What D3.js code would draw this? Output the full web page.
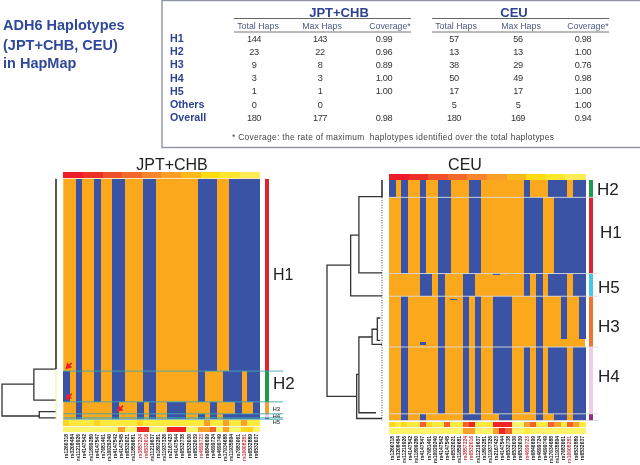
<!DOCTYPE html>
<html>
  <head>
    <meta charset="utf-8">
    <style>
      html, body { margin: 0; padding: 0; background: #fff; }
      svg { display: block; font-family: "Liberation Sans", Arial, sans-serif; filter: blur(0.35px); }
      .tree path { fill: none; stroke: #333; stroke-width: 1.3px; }
      .cell, .ldcell, .strip, .side { shape-rendering: crispEdges; }
    </style>
    <script src="https://cdn.jsdelivr.net/npm/d3@7/dist/d3.min.js"></script>
  </head>
  <body>
    <script>
      // table
      var tableRows = ["H1", "H2", "H3", "H4", "H5", "Others", "Overall"];
      var tableHead = ["Total Haps", "Max Haps", "Coverage*"];
      var jptTotal = ["144", "23", "9", "3", "1", "0", "180"];
      var jptMax = ["143", "22", "8", "3", "1", "0", "177"];
      var jptCover = ["0.99", "0.96", "0.89", "1.00", "1.00", "", "0.98"];
      var ceuTotal = ["57", "13", "38", "50", "17", "5", "180"];
      var ceuMax = ["56", "13", "29", "49", "17", "5", "169"];
      var ceuCover = ["0.98", "1.00", "0.76", "0.98", "1.00", "1.00", "0.94"];

      // snp columns (ids are blurred in the picture, best reading)
      var snps = ["rs1260318", "rs3208484", "rs11219926", "rs4147542", "rs11899280", "rs4147547", "rs7681461",
        "rs10029240", "rs4147542", "rs4147545", "rs6532021", "rs11859681", "rs3857224", "rs6532016", "rs11219637",
        "rs1893281", "rs11937326", "rs2167423", "rs4147544", "rs6532738", "rs6532030", "rs6532039", "rs4699723",
        "rs6846699", "rs4699724", "rs4699749", "rs17034688", "rs11935894", "rs7683061", "rs10008281", "rs6532889", "rs6532037"];
      var redSnps = [12, 13, 22, 29];

      // blue columns of each haplotype block
      var blueH1 = [2, 5, 8, 9, 13, 14, 22, 23, 24, 27, 28, 29, 30, 31];
      var blueH2 = [0, 2, 5, 8, 9, 13, 14, 22, 26, 27, 28, 30, 31];
      var blueH3 = [2, 8, 12, 14, 17, 18, 19, 24, 28, 31];
      var blueH3b = [2, 8, 12, 14, 17, 18, 19, 24];
      var blueH4Jpt = [2, 8, 12, 14, 17, 18, 19, 22, 24, 26, 27, 28, 29, 30, 31];
      var blueH4Ceu = [2, 8, 12, 14, 17, 18, 19, 22, 24, 26, 27, 28, 30, 31];
      var blueH4End = [2, 8, 12, 14, 17, 18, 19, 24, 26, 27, 28, 30, 31];
      var blueH5Ceu = [5, 6, 8, 12, 13, 22, 24, 26, 27, 28, 30, 31];
      var blueOther = [2, 5, 12, 13, 14, 18, 19, 24, 27, 28, 30, 31];

      // [block, number of haplotypes]
      var jptBlocks = [[blueH1, 144], [blueH2, 23], [blueH3, 9], [blueH4Jpt, 3], [blueH4Jpt, 1]];
      var ceuBlocks = [[blueH2, 13], [blueH1, 57], [blueH5Ceu, 17], [blueH3, 32], [blueH3b, 6],
        [blueH4Ceu, 49], [blueH4End, 1], [blueOther, 5]];
      // stray cells [column, first haplotype, last haplotype]
      var ceuSpecks = [[17, 69.5, 71], [10, 88.8, 90], [5, 121.3, 123.7]];

      // group side bars [name, haplotypes, colour]
      var jptGroups = [["H1", 144, "#e0242f"], ["H2", 23, "#1f9a4a"], ["H3", 9, "#f3a02c"], ["H4", 3, "#eecbe6"], ["H5", 1, "#8e2f86"]];
      var ceuGroups = [["H2", 13, "#1f9a4a"], ["H1", 57, "#e0242f"], ["H5", 17, "#45c6e6"], ["H3", 38, "#ee7430"], ["H4", 50, "#eecbe6"], ["", 5, "#8e2f86"]];

      // bottom rows, heat level per column
      var jptLd1 = [2,1,1,1,1,2,1,1,1,1,1,1,2,1,1,1,1,1,1,1,1,1,1,3,1,1,3,1,1,3,1,1];
      var jptLd2 = [0,0,0,0,0,0,0,0,0,3,0,0,5,5,0,0,0,5,5,5,0,0,3,3,4,0,3,0,0,2,2,0];
      var ceuLd1 = [2,1,2,1,1,4,2,1,1,4,1,1,4,5,1,1,1,5,5,5,0,0,3,4,1,1,4,3,1,4,3,1];
      var ceuLd2 = [0,0,0,0,0,0,0,0,0,0,0,0,3,3,0,0,0,3,5,4,0,0,1,0,0,0,0,0,0,0,0,0];
      var ldColors = ["#fff36a", "#ffe93a", "#ffd51e", "#f9a02b", "#f2622a", "#ee2426"];

      // colour strip above each heat map
      var stripColors = ["#ee1c28", "#ee2f28", "#f1512a", "#f3692c", "#f6852b", "#fa9f26", "#fdb81c", "#ffdc10", "#ffe82c", "#fdeb55"];

      // dendrograms: d = distance, pos = haplotype position
      var jptTree = { d: 1, pos: 165, children: [
        { d: 0.41, pos: 153.7, children: [
          { d: 0.05, pos: 142.5, children: [{ d: 0, pos: 142.5 }] },
          { d: 0.05, pos: 165.7, children: [{ d: 0, pos: 165.7 }] }] },
        { d: 0.31, pos: 177.6, children: [{ d: 0, pos: 174.4 }, { d: 0, pos: 179 }] }] };
      var ceuTree = { d: 1, pos: 110, children: [
        { d: 0.57, pos: 63.7, children: [
          { d: 0.42, pos: 41.2, children: [{ d: 0, pos: 12.5 }, { d: 0, pos: 69.5 }] },
          { d: 0, pos: 86.8 }] },
        { d: 0.46, pos: 162, children: [
          { d: 0.42, pos: 145.5, children: [
            { d: 0.18, pos: 117.5, children: [
              { d: 0.085, pos: 111.7, children: [{ d: 0.03, pos: 103.3 }, { d: 0.03, pos: 120 }] },
              { d: 0, pos: 123 }] },
            { d: 0.11, pos: 174.2 }] },
          { d: 0, pos: 178.5 }] }] };

      // red arrows [column, haplotype]
      var jptArrows = [[0.8, 140.5], [0.8, 163.5], [9.2, 172.5]];

      var svg = d3.select("body").append("svg").attr("width", 640).attr("height", 465);

      // ---- title
      var titleLines = ["ADH6 Haplotypes", "(JPT+CHB, CEU)", "in HapMap"];
      svg.selectAll("text.title").data(titleLines).enter().append("text")
        .attr("class", "title")
        .attr("x", 3).attr("y", function(d, i) { return [30, 50, 68][i]; })
        .attr("font-size", 14.5).attr("font-weight", "bold").attr("fill", "#30499b")
        .text(function(d) { return d; });

      // ---- table
      var rowY = d3.scalePoint().domain(tableRows).range([38.3, 117.3]);
      svg.append("rect").attr("x", 162).attr("y", 0.5).attr("width", 490).attr("height", 147)
        .attr("fill", "#fff").attr("stroke", "#8f93a6").attr("stroke-width", 1.4);
      svg.selectAll("text.rowname").data(tableRows).enter().append("text")
        .attr("class", "rowname").attr("x", 170).attr("y", function(d) { return rowY(d) + 3.8; })
        .attr("font-size", 10.7).attr("font-weight", "bold").attr("fill", "#2e4294")
        .text(function(d) { return d; });

      function tableBlock(name, cx, x0, x1, headX, valX, cols) {
        svg.append("text").attr("x", cx).attr("y", 17).attr("text-anchor", "middle")
          .attr("font-size", 13).attr("font-weight", "bold").attr("fill", "#2e4294").text(name);
        svg.append("line").attr("x1", x0).attr("x2", x1).attr("y1", 18.5).attr("y2", 18.5).attr("stroke", "#666");
        svg.append("line").attr("x1", x0).attr("x2", x1).attr("y1", 32).attr("y2", 32).attr("stroke", "#777");
        tableHead.forEach(function(h, i) {
          svg.append("text").attr("x", headX[i]).attr("y", 29.3).attr("text-anchor", "middle")
            .attr("font-size", 8.8).attr("fill", "#4c5a86").text(h);
        });
        cols.forEach(function(col, i) {
          svg.selectAll(null).data(col).enter().append("text")
            .attr("x", valX[i]).attr("y", function(d, j) { return rowY(tableRows[j]) + 3.4; })
            .attr("text-anchor", "middle").attr("font-size", 9.2).attr("letter-spacing", -0.4).attr("fill", "#333")
            .text(function(d) { return d; });
        });
      }
      tableBlock("JPT+CHB", 339, 234, 411, [258, 322, 390], [254, 320, 384], [jptTotal, jptMax, jptCover]);
      tableBlock("CEU", 514, 432, 609, [456, 521, 588], [454, 518, 583], [ceuTotal, ceuMax, ceuCover]);

      svg.append("text").attr("x", 232).attr("y", 140).attr("font-size", 8.4).attr("fill", "#444")
        .attr("textLength", 322).attr("lengthAdjust", "spacing").style("white-space", "pre")
        .text("* Coverage: the rate of maximum  haplotypes identified over the total haplotypes");

      // ---- one heat map panel
      function panel(o) {
        var g = svg.append("g");
        var x = d3.scaleBand().domain(d3.range(snps.length)).range([o.left, o.left + 196]);
        var xc = d3.scaleLinear().domain([0, snps.length]).range([o.left, o.left + 196]);
        var y = d3.scaleLinear().domain([0, 180]).range([o.top, o.top + 240.5]);

        g.append("text").attr("x", o.titleX).attr("y", 170).attr("text-anchor", "middle")
          .attr("font-size", 16).attr("fill", "#222").text(o.title);

        // colour strip
        var sx = d3.scaleBand().domain(d3.range(stripColors.length)).range([o.left, o.left + 196]);
        g.selectAll("rect.strip").data(stripColors).enter().append("rect").attr("class", "strip")
          .attr("x", function(d, i) { return sx(i); }).attr("y", o.top - 6.5)
          .attr("width", sx.bandwidth() + 0.5).attr("height", 6).attr("fill", function(d) { return d; });

        // orange ground, then blue runs
        g.append("rect").attr("x", o.left).attr("y", y(0)).attr("width", 196).attr("height", y(180) - y(0)).attr("fill", "#fba81d");
        var start = 0, cells = [];
        o.blocks.forEach(function(b) {
          b[0].forEach(function(c) { cells.push({ c: c, a: start, b: start + b[1] }); });
          start += b[1];
        });
        (o.specks || []).forEach(function(s) { cells.push({ c: s[0], a: s[1], b: s[2] }); });
        g.selectAll("rect.cell").data(cells).enter().append("rect").attr("class", "cell")
          .attr("x", function(d) { return x(d.c); }).attr("y", function(d) { return y(d.a); })
          .attr("width", x.bandwidth() + 0.6).attr("height", function(d) { return y(d.b) - y(d.a); })
          .attr("fill", "#3a53a5");

        // bottom rows
        var ld = d3.scaleOrdinal().domain(d3.range(ldColors.length)).range(ldColors);
        [o.ld1, o.ld2].forEach(function(row, r) {
          g.selectAll(null).data(row).enter().append("rect").attr("class", "ldcell")
            .attr("x", function(d, i) { return x(i); }).attr("y", y(180) + 1 + r * 6.4)
            .attr("width", x.bandwidth() + 0.6).attr("height", 5.8)
            .attr("fill", function(d) { return ld(d); });
        });

        // snp names
        g.selectAll("text.snp").data(snps).enter().append("text").attr("class", "snp")
          .attr("transform", function(d, i) { return "translate(" + (x(i) + x.bandwidth() / 2 + 1.7) + "," + o.labelY + ") rotate(-90)"; })
          .attr("text-anchor", "end").attr("font-size", 5).attr("font-weight", "bold")
          .attr("fill", function(d, i) { return redSnps.indexOf(i) >= 0 ? "#c8323c" : "#111"; })
          .text(function(d) { return d; });

        // side bars, boundary lines, names
        var at = 0, sizes = [];
        o.groups.forEach(function(gr) { sizes.push({ name: gr[0], a: at, b: at + gr[1], color: gr[2] }); at += gr[1]; });
        g.selectAll("rect.side").data(sizes).enter().append("rect").attr("class", "side")
          .attr("x", o.barX).attr("width", 4).attr("y", function(d) { return y(d.a); })
          .attr("height", function(d) { return y(d.b) - y(d.a); }).attr("fill", function(d) { return d.color; });
        g.selectAll("line.edge").data(sizes).enter().append("line").attr("class", "edge")
          .attr("x1", o.left).attr("x2", o.lineEnd)
          .attr("y1", function(d) { return y(d.b); }).attr("y2", function(d) { return y(d.b); })
          .attr("stroke", o.lineColor).attr("stroke-width", 0.9);
        g.selectAll("text.group").data(sizes.filter(function(d) { return d.name; })).enter().append("text").attr("class", "group")
          .attr("x", function(d) { return o.nameX[d.name]; })
          .attr("y", function(d) { return o.nameY[d.name]; })
          .attr("font-size", function(d) { return o.nameSize[d.name] || 17; }).attr("fill", "#222")
          .text(function(d) { return d.name; });

        // dendrogram, links as elbows
        var tx = d3.scaleLinear().domain([0, 1]).range([o.treeX0, o.treeX1]);
        var root = d3.hierarchy(o.tree);
        g.append("g").attr("class", "tree").selectAll("path").data(root.links()).enter().append("path")
          .attr("d", function(l) {
            var p = d3.path();
            p.moveTo(tx(l.source.data.d), y(l.source.data.pos));
            p.lineTo(tx(l.source.data.d), y(l.target.data.pos));
            p.lineTo(tx(l.target.data.d), y(l.target.data.pos));
            return p.toString();
          });
        g.append("line").attr("x1", o.treeX0).attr("x2", o.treeX0).attr("y1", y(o.comb[0])).attr("y2", y(o.comb[1]))
          .attr("stroke", "#222").attr("stroke-width", 1.5);
        g.append("line").attr("x1", o.treeX0).attr("x2", o.treeX0).attr("y1", y(o.comb[1])).attr("y2", y(180))
          .attr("stroke", o.railColor).attr("stroke-width", 1).attr("stroke-dasharray", o.railDash);

        // red arrows
        g.selectAll("path.arrow").data(o.arrows || []).enter().append("path").attr("class", "arrow")
          .attr("transform", function(d) { return "translate(" + xc(d[0]) + "," + y(d[1]) + ") rotate(-135)"; })
          .attr("d", d3.symbol().type(d3.symbolTriangle).size(22)).attr("fill", "#e5232e");
        g.selectAll("line.arrow").data(o.arrows || []).enter().append("line").attr("class", "arrow")
          .attr("x1", function(d) { return xc(d[0]); }).attr("y1", function(d) { return y(d[1]); })
          .attr("x2", function(d) { return xc(d[0]) + 3.5; }).attr("y2", function(d) { return y(d[1]) - 3.5; })
          .attr("stroke", "#e5232e").attr("stroke-width", 1.6);
      }

      panel({
        title: "JPT+CHB", titleX: 172, left: 63.3, top: 178.7, labelY: 434,
        blocks: jptBlocks, groups: jptGroups, ld1: jptLd1, ld2: jptLd2,
        barX: 265, lineEnd: 283, lineColor: "#3ea7b5",
        nameX: { H1: 273, H2: 273, H3: 272.5, H4: 272.5, H5: 272.5 },
        nameY: { H1: 280, H2: 389, H3: 411, H4: 418, H5: 424 },
        nameSize: { H1: 16, H3: 6, H4: 6, H5: 6 },
        tree: jptTree, treeX0: 56, treeX1: 2, comb: [0, 142.5], railColor: "#f2ee9a", railDash: null,
        arrows: jptArrows
      });
      panel({
        title: "CEU", titleX: 465, left: 389, top: 180, labelY: 436,
        blocks: ceuBlocks, specks: ceuSpecks, groups: ceuGroups, ld1: ceuLd1, ld2: ceuLd2,
        barX: 589, lineEnd: 598, lineColor: "#d9dde0",
        nameX: { H1: 600, H2: 597, H3: 598, H4: 598, H5: 598 },
        nameY: { H1: 238, H2: 195, H3: 332, H4: 382, H5: 293 },
        nameSize: {},
        tree: ceuTree, treeX0: 382, treeX1: 327, comb: [0, 13], railColor: "#444", railDash: "1,1.5"
      });
    </script>
  </body>
</html>
